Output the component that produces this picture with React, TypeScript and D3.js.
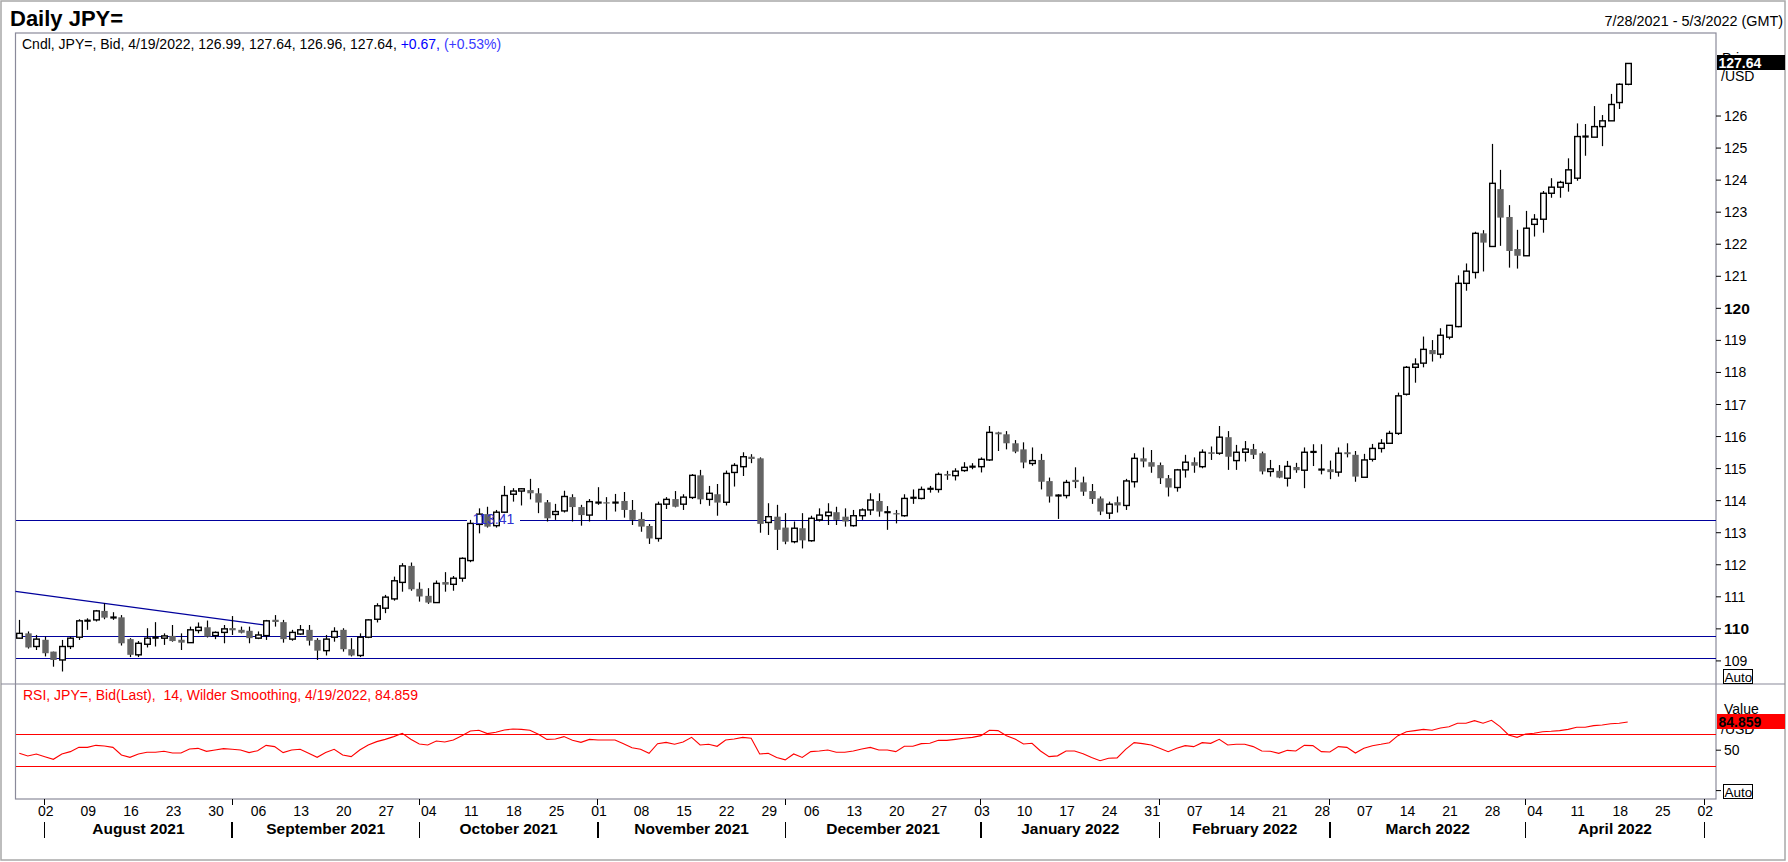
import React from "react";
import * as d3 from "d3";

// ---- Data ----
const OPEN = [
  109.71, 109.86, 109.45, 109.66, 109.29, 109.03, 109.45, 109.74, 110.26, 110.28,
  110.56, 110.36, 110.36, 109.68, 109.19, 109.52, 109.72, 109.71, 109.78, 109.66,
  109.57, 109.95, 110.05, 109.79, 109.89, 110.0, 109.97, 109.94, 109.71, 109.79,
  110.26, 110.21, 109.68, 109.84, 109.97, 109.655, 109.32, 109.74, 109.97, 109.365,
  109.17, 109.74, 110.3, 110.645, 110.935, 111.45, 111.965, 111.25, 111.03, 110.82,
  111.46, 111.39, 111.58, 112.13, 113.26, 113.58, 113.22, 113.64, 114.2, 114.3,
  114.33, 114.23, 113.95, 113.57, 113.68, 114.11, 113.8, 113.55, 113.94, 113.95,
  113.94, 113.99, 113.71, 113.43, 113.21, 112.82, 113.89, 114.05, 113.89, 114.1,
  114.79, 114.04, 114.2, 113.95, 114.88, 115.06, 115.37, 115.32, 113.32, 113.5,
  113.16, 112.72, 113.14, 112.75, 113.4, 113.53, 113.64, 113.5, 113.22, 113.53,
  113.71, 113.99, 113.64, 113.61, 113.53, 114.09, 114.07, 114.37, 114.35, 114.83,
  114.78, 114.94, 115.06, 115.06, 115.27, 116.13, 116.07, 115.79, 115.6, 115.16,
  115.27, 114.61, 114.16, 114.16, 114.63, 114.57, 114.3, 114.07, 113.61, 113.95,
  113.85, 114.59, 115.32, 115.2, 115.11, 114.7, 114.41, 114.96, 115.2, 115.06,
  115.51, 115.48, 115.98, 115.25, 115.51, 115.61, 115.48, 114.91, 114.93, 114.7,
  115.05, 114.95, 115.52, 114.97, 114.98, 114.89, 115.51, 115.43, 114.73, 115.29,
  115.63, 115.79, 116.1, 117.32, 118.16, 118.29, 118.7, 118.57, 119.1, 119.43,
  120.78, 121.12, 122.34, 121.93, 123.72, 122.85, 121.85, 121.64, 122.62, 122.78,
  123.59, 123.78, 123.9, 124.06, 125.36, 125.34, 125.67, 125.85, 126.42, 126.99,
];
const HIGH = [
  110.28, 109.92, 109.81, 109.76, 109.29, 109.655, 109.76, 110.3, 110.33, 110.59,
  110.8, 110.52, 110.43, 109.71, 109.62, 110.02, 110.21, 109.86, 110.12, 109.86,
  110.07, 110.2, 110.26, 109.92, 110.12, 110.4, 110.07, 110.07, 109.92, 110.28,
  110.43, 110.28, 109.97, 110.12, 110.12, 109.71, 109.81, 110.05, 110.02, 109.71,
  109.86, 110.3, 110.8, 111.06, 111.63, 112.05, 112.07, 111.45, 111.27, 111.51,
  111.77, 111.65, 112.23, 113.4, 113.76, 113.81, 113.71, 114.46, 114.39, 114.39,
  114.68, 114.39, 114.02, 113.9, 114.31, 114.2, 113.87, 114.05, 114.42, 114.11,
  114.21, 114.27, 114.02, 113.64, 113.27, 113.97, 114.11, 114.3, 114.2, 114.83,
  114.96, 114.46, 114.52, 114.94, 115.17, 115.51, 115.45, 115.35, 113.92, 113.87,
  113.61, 113.35, 113.61, 113.53, 113.76, 113.92, 113.81, 113.76, 113.71, 113.76,
  114.23, 114.23, 113.83, 113.71, 114.2, 114.35, 114.44, 114.46, 114.88, 114.93,
  115.01, 115.2, 115.17, 115.35, 116.33, 116.15, 116.17, 115.89, 115.82, 115.66,
  115.46, 114.72, 114.2, 114.65, 115.04, 114.75, 114.52, 114.13, 113.97, 114.13,
  114.68, 115.48, 115.66, 115.58, 115.19, 114.8, 114.99, 115.43, 115.35, 115.6,
  115.69, 116.33, 116.17, 115.74, 115.86, 115.77, 115.53, 115.27, 115.11, 115.24,
  115.18, 115.66, 115.76, 115.76, 115.25, 115.66, 115.79, 115.55, 115.46, 115.77,
  115.92, 116.18, 117.37, 118.2, 118.44, 119.12, 119.01, 119.38, 119.47, 121.03,
  121.4, 122.39, 122.44, 125.13, 124.32, 123.22, 122.45, 123.04, 122.94, 123.66,
  124.06, 123.98, 124.68, 125.77, 125.75, 126.31, 126.03, 126.69, 127.02, 127.64,
];
const LOW = [
  109.7, 109.385, 109.34, 109.14, 108.82, 108.67, 109.37, 109.655, 109.97, 110.23,
  110.3, 110.28, 109.48, 109.12, 109.12, 109.42, 109.45, 109.5, 109.6, 109.34,
  109.57, 109.86, 109.73, 109.68, 109.55, 109.81, 109.86, 109.55, 109.68, 109.655,
  110.07, 109.57, 109.63, 109.81, 109.48, 109.03, 109.17, 109.6, 109.29, 109.14,
  109.12, 109.71, 110.2, 110.49, 110.88, 111.16, 111.19, 110.85, 110.78, 110.82,
  111.16, 111.19, 111.47, 112.08, 112.98, 113.16, 113.16, 113.61, 113.97, 113.85,
  114.04, 113.61, 113.35, 113.4, 113.63, 113.35, 113.22, 113.35, 113.87, 113.4,
  113.66, 113.47, 113.24, 113.03, 112.65, 112.72, 113.74, 113.79, 113.71, 114.05,
  113.89, 113.84, 113.53, 113.85, 114.44, 114.77, 115.17, 113.0, 112.93, 112.46,
  112.64, 112.67, 112.51, 112.72, 113.35, 113.24, 113.24, 113.19, 113.19, 113.4,
  113.55, 113.5, 113.09, 113.29, 113.5, 113.9, 114.04, 114.25, 114.25, 114.65,
  114.63, 114.9, 114.98, 114.88, 115.24, 115.55, 115.6, 115.48, 115.01, 115.09,
  114.35, 113.94, 113.43, 114.07, 114.39, 114.15, 113.9, 113.55, 113.43, 113.63,
  113.71, 114.41, 115.04, 114.87, 114.52, 114.13, 114.28, 114.72, 114.87, 115.01,
  115.27, 115.43, 114.96, 114.96, 115.22, 115.3, 114.82, 114.75, 114.7, 114.44,
  114.87, 114.39, 115.08, 114.82, 114.67, 114.75, 115.35, 114.59, 114.73, 115.22,
  115.5, 115.77, 116.05, 117.28, 117.68, 118.16, 118.34, 118.44, 119.03, 119.41,
  120.55, 120.93, 121.15, 121.93, 121.95, 121.27, 121.24, 121.64, 122.24, 122.36,
  123.45, 123.45, 123.64, 123.98, 124.76, 125.34, 125.06, 125.85, 126.22, 126.96,
];
const CLOSE = [
  109.86, 109.42, 109.68, 109.24, 109.03, 109.45, 109.71, 110.25, 110.25, 110.56,
  110.35, 110.35, 109.55, 109.19, 109.55, 109.71, 109.73, 109.78, 109.62, 109.57,
  109.97, 110.05, 109.76, 109.89, 110.0, 109.98, 109.88, 109.71, 109.81, 110.25,
  110.24, 109.68, 109.89, 109.97, 109.63, 109.32, 109.68, 109.92, 109.365, 109.17,
  109.74, 110.28, 110.72, 110.99, 111.5, 111.965, 111.235, 111.01, 110.82, 111.42,
  111.38, 111.58, 112.2, 113.29, 113.58, 113.19, 113.64, 114.16, 114.3, 114.37,
  114.23, 113.94, 113.45, 113.66, 114.13, 113.8, 113.55, 113.97, 113.94, 113.91,
  113.94, 113.71, 113.4, 113.19, 112.82, 113.89, 114.04, 113.81, 114.11, 114.79,
  114.04, 114.23, 113.94, 114.85, 115.1, 115.37, 115.3, 113.275, 113.5, 113.09,
  112.72, 113.14, 112.76, 113.45, 113.55, 113.64, 113.4, 113.35, 113.53, 113.71,
  114.02, 113.66, 113.64, 113.57, 114.07, 114.09, 114.35, 114.37, 114.82, 114.78,
  114.92, 115.04, 115.06, 115.29, 116.13, 116.07, 115.79, 115.53, 115.19, 115.25,
  114.59, 114.13, 114.16, 114.57, 114.6, 114.28, 114.05, 113.66, 113.89, 113.85,
  114.615, 115.32, 115.22, 115.06, 114.7, 114.41, 114.96, 115.2, 115.09, 115.51,
  115.46, 115.98, 115.37, 115.51, 115.61, 115.43, 114.91, 114.99, 114.72, 115.07,
  114.95, 115.51, 115.52, 114.97, 114.89, 115.48, 115.45, 114.75, 115.27, 115.63,
  115.79, 116.1, 117.27, 118.16, 118.26, 118.72, 118.57, 119.16, 119.47, 120.78,
  121.16, 122.34, 122.05, 123.9, 122.83, 121.79, 121.64, 122.5, 122.78, 123.59,
  123.78, 123.93, 124.32, 125.36, 125.36, 125.67, 125.85, 126.36, 126.99, 127.64,
];
const RSI = [
  46.1, 42.8, 45.3, 42.0, 38.7, 45.3, 48.2, 53.5, 53.5, 56.0,
  55.2, 53.5, 44.1, 41.2, 45.3, 47.4, 47.4, 48.6, 46.5, 46.5,
  51.5, 52.3, 48.6, 50.3, 51.9, 51.1, 50.3, 47.0, 49.4, 56.0,
  54.4, 47.0, 50.3, 51.1, 46.1, 41.2, 47.0, 51.1, 44.1, 42.0,
  50.3, 56.4, 60.6, 63.4, 66.8, 70.9, 63.6, 57.7, 56.4, 61.4,
  60.1, 62.6, 68.0, 73.8, 74.6, 70.5, 72.1, 75.0, 76.2, 75.8,
  74.6, 69.6, 63.4, 63.9, 66.8, 62.2, 59.7, 63.4, 62.6, 62.6,
  62.6, 58.1, 53.1, 51.1, 46.1, 58.1, 59.7, 57.3, 60.1, 65.9,
  56.4, 57.3, 54.8, 62.6, 63.9, 65.9, 64.7, 45.3, 46.1, 41.0,
  38.0, 45.3, 41.0, 48.2, 49.0, 50.3, 47.4, 47.4, 49.0, 51.5,
  53.5, 50.3, 50.3, 48.2, 54.8, 54.8, 58.1, 58.5, 62.2, 62.2,
  63.4, 64.7, 65.9, 68.0, 74.6, 74.2, 68.0, 63.9, 57.7, 58.5,
  49.0, 42.0, 43.0, 49.0, 49.0, 45.7, 41.0, 37.0, 40.0, 40.5,
  51.1, 59.3, 58.1, 56.4, 52.3, 48.2, 52.3, 55.6, 54.4, 59.3,
  58.5, 63.4, 56.4, 57.3, 57.3, 54.4, 49.0, 48.6, 46.1, 49.8,
  49.0, 56.0, 55.6, 48.2, 47.8, 54.4, 53.5, 46.5, 52.3, 55.6,
  57.3, 59.3, 68.0, 72.8, 74.2, 75.8, 74.6, 77.5, 79.1, 83.3,
  83.3, 86.5, 83.3, 87.0, 79.1, 68.8, 65.9, 70.0, 70.9, 72.9,
  73.4, 74.2, 75.8, 78.3, 78.3, 80.4, 81.2, 82.8, 83.3, 84.859,
];

const H_LEVELS = [113.41, 109.78, 109.09];
const LEVEL_LABEL = { value: 113.41, at: 55.7, text: "113.41" };
const TREND = [
  { i: -0.45, p: 111.17 },
  { i: 29.4, p: 110.1 },
];
const PRICE_TICKS = d3.range(109, 127);
const RSI_LEVELS = [70, 30];
const MONTHS = [
  "January", "February", "March", "April", "May", "June",
  "July", "August", "September", "October", "November", "December",
];
const FIRST_DAY = Date.UTC(2021, 6, 28);
const LAST_DAY = Date.UTC(2022, 4, 3);

function tradingDays(): Date[] {
  const out: Date[] = [];
  for (let t = FIRST_DAY; t <= LAST_DAY; t += 86400000) {
    const d = new Date(t);
    const w = d.getUTCDay();
    if (w !== 0 && w !== 6) out.push(d);
  }
  return out;
}

const FONT = "'Liberation Sans', Arial, Helvetica, sans-serif";

export default function App() {
  const W = 1788, H = 862;
  const L = 15.5, R = 1716, T = 33, SEP = 684, B = 799;
  const days = tradingDays();
  const x = d3.scaleLinear().domain([0, 198]).range([19.3, 1704.3]);
  const y = d3.scaleLinear().domain([108.28, 128.59]).range([SEP, T]);
  const ry = d3.scaleLinear().domain([-10.4, 131.9]).range([B, SEP]);
  const frame = "#8a8a9a";
  const blue = "#00009c";

  const monthStarts: number[] = [];
  days.forEach((d, i) => {
    if (i > 0 && d.getUTCMonth() !== days[i - 1].getUTCMonth()) monthStarts.push(i);
  });
  const mondays = days
    .map((d, i) => ({ d, i }))
    .filter((o) => o.d.getUTCDay() === 1 && o.i >= 3);

  const rsiLine = d3
    .line<number>()
    .x((_, i) => x(i))
    .y((v) => ry(v))(RSI) as string;

  const bw = 6.4;
  const lx = x(LEVEL_LABEL.at);
  const py = (v: number) => Math.round(y(v)) + 0.5;

  return (
    <div>
      <style>{`body{margin:0;background:#fff}`}</style>
      <svg width={W} height={H} style={{ display: "block", fontFamily: FONT }}>
        <rect x={0} y={0} width={W} height={H} fill="#fff" />
        <rect x={1} y={1} width={1784} height={859} fill="none" stroke="#a8a8a8" strokeWidth={1.5} />

        {/* Titles */}
        <text x={10} y={26} fontSize={22} fontWeight="bold" fill="#000">Daily JPY=</text>
        <text x={1783} y={26} fontSize={14.4} fill="#000" textAnchor="end">7/28/2021 - 5/3/2022 (GMT)</text>

        {/* frame */}
        <rect x={L} y={T} width={R - L} height={B - T} fill="none" stroke={frame} strokeWidth={1.2} />
        <line x1={1} x2={1785} y1={SEP} y2={SEP} stroke={frame} strokeWidth={1.2} />

        {/* legend */}
        <text x={22} y={49} fontSize={14} fill="#000">
          Cndl, JPY=, Bid, 4/19/2022, 126.99, 127.64, 126.96, 127.64,{" "}
          <tspan fill="#0000ff">+0.67,</tspan> <tspan fill="#3a3aff">(+0.53%)</tspan>
        </text>

        {/* horizontal levels */}
        <g shapeRendering="crispEdges">
          {H_LEVELS.map((v) =>
            v === LEVEL_LABEL.value ? (
              <g key={v}>
                <line x1={L} x2={lx - 26} y1={py(v)} y2={py(v)} stroke={blue} strokeWidth={1} />
                <line x1={lx + 27} x2={R} y1={py(v)} y2={py(v)} stroke={blue} strokeWidth={1} />
              </g>
            ) : (
              <line key={v} x1={L} x2={R} y1={py(v)} y2={py(v)} stroke={blue} strokeWidth={1} />
            )
          )}
        </g>
        <line
          x1={x(TREND[0].i)} y1={y(TREND[0].p)} x2={x(TREND[1].i)} y2={y(TREND[1].p)}
          stroke={blue} strokeWidth={1.1}
        />

        {/* candles */}
        <g>
          {OPEN.map((o, i) => {
            const c = CLOSE[i];
            const cx = Math.round(x(i)) + 0.5;
            const yo = y(o), yc = y(c);
            const up = c >= o;
            const top = Math.min(yo, yc), h = Math.abs(yo - yc);
            return (
              <g key={i}>
                <line x1={cx} x2={cx} y1={y(HIGH[i])} y2={y(LOW[i])} stroke="#000" strokeWidth={1.2} />
                {h < 1.2 ? (
                  <line x1={cx - bw / 2} x2={cx + bw / 2} y1={(yo + yc) / 2} y2={(yo + yc) / 2}
                    stroke={Math.abs(c - o) < 0.015 ? "#000" : "#646464"} strokeWidth={2.2} />
                ) : up ? (
                  <rect x={cx - bw / 2 + 0.4} y={top} width={bw - 0.8} height={h}
                    fill="#fff" stroke="#000" strokeWidth={1.4} />
                ) : (
                  <rect x={cx - bw / 2} y={top} width={bw} height={h} fill="#646464" />
                )}
              </g>
            );
          })}
        </g>

        {/* level label */}
        <text x={lx} y={y(LEVEL_LABEL.value)} dy="0.35em" fontSize={14} fill="#3030d0" textAnchor="middle">
          {LEVEL_LABEL.text}
        </text>

        {/* price axis */}
        {PRICE_TICKS.map((v) => (
          <g key={v}>
            <line x1={R} x2={R + 5} y1={y(v)} y2={y(v)} stroke="#000" strokeWidth={1} />
            <text x={R + 8} y={y(v)} dy="0.36em" fontSize={v % 10 === 0 ? 15.5 : 14}
              fontWeight={v % 10 === 0 ? "bold" : "normal"} fill="#000">{v}</text>
          </g>
        ))}
        <text x={1722} y={63} fontSize={14} fill="#000">Price</text>
        <text x={1721} y={81} fontSize={14} fill="#000">/USD</text>
        <rect x={1717} y={55} width={68} height={15} fill="#000" />
        <text x={1718.5} y={67.5} fontSize={14} fontWeight="bold" fill="#fff">{CLOSE[CLOSE.length - 1].toFixed(2)}</text>
        <rect x={1723.5} y={669.5} width={29} height={14} fill="#fff" stroke="#000" strokeWidth={1} />
        <text x={1724.5} y={681.5} fontSize={13.5} fill="#000">Auto</text>

        {/* RSI panel */}
        <text x={23} y={700} fontSize={14} fill="#ff0000" style={{ whiteSpace: "pre" }}>
          {"RSI, JPY=, Bid(Last),  14, Wilder Smoothing, 4/19/2022, 84.859"}
        </text>
        {RSI_LEVELS.map((v) => (
          <line key={v} x1={L} x2={R} y1={Math.round(ry(v)) + 0.5} y2={Math.round(ry(v)) + 0.5}
            stroke="#ff0000" strokeWidth={1.2} shapeRendering="crispEdges" />
        ))}
        <path d={rsiLine} fill="none" stroke="#ff0000" strokeWidth={1.1} />
        <line x1={R} x2={R + 5} y1={ry(50)} y2={ry(50)} stroke="#000" />
        <text x={R + 8} y={ry(50)} dy="0.36em" fontSize={14} fill="#000">50</text>
        <line x1={R} x2={R + 5} y1={ry(0)} y2={ry(0)} stroke="#000" />
        <text x={1724} y={714} fontSize={14} fill="#000">Value</text>
        <text x={1721} y={734} fontSize={14} fill="#000">/USD</text>
        <rect x={1717} y={714} width={68} height={15} fill="#ff0000" />
        <text x={1718.5} y={726.5} fontSize={14} fontWeight="bold" fill="#000">{RSI[RSI.length - 1].toFixed(3)}</text>
        <rect x={1723.5} y={784.5} width={29} height={14} fill="#fff" stroke="#000" strokeWidth={1} />
        <text x={1724.5} y={796.5} fontSize={13.5} fill="#000">Auto</text>

        {/* date axis */}
        {mondays.map(({ d, i }) => (
          <text key={i} x={x(i) + 1} y={816} fontSize={14} textAnchor="middle" fill="#000">
            {String(d.getUTCDate()).padStart(2, "0")}
          </text>
        ))}
        {monthStarts.map((i) => (
          <g key={i} shapeRendering="crispEdges">
            <line x1={x(i)} x2={x(i)} y1={799} y2={805} stroke="#000" strokeWidth={1} />
            <line x1={x(i)} x2={x(i)} y1={822} y2={838} stroke="#000" strokeWidth={1.3} />
          </g>
        ))}
        {monthStarts.slice(0, -1).map((s, k) => {
          const e = monthStarts[k + 1];
          const d = days[s];
          return (
            <text key={s} x={(x(s) + x(e)) / 2} y={834} fontSize={15.5} fontWeight="bold"
              textAnchor="middle" fill="#000">
              {`${MONTHS[d.getUTCMonth()]} ${d.getUTCFullYear()}`}
            </text>
          );
        })}
      </svg>
    </div>
  );
}
